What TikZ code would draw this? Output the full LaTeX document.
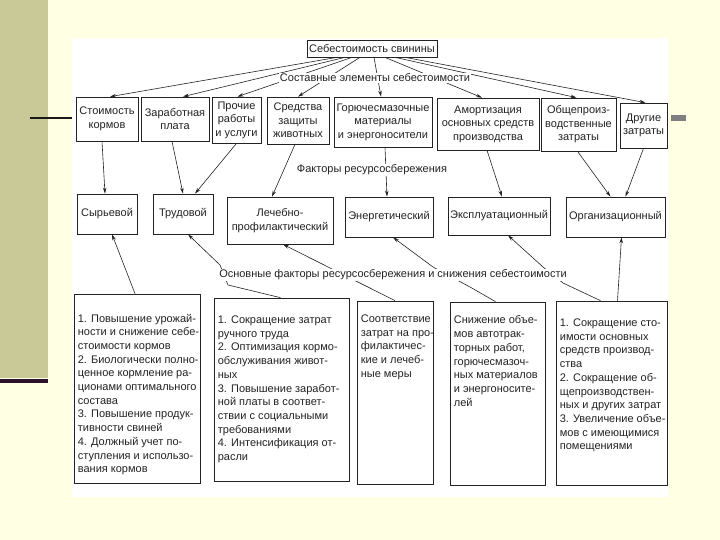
\documentclass[tikz,border=0pt]{standalone}
\usepackage{fontspec}
\setmainfont{Liberation Sans}
\usetikzlibrary{arrows.meta}
\definecolor{cream}{RGB}{255,255,228}
\definecolor{olivebg}{RGB}{201,201,151}
\definecolor{darkbar}{RGB}{43,16,43}
\definecolor{ink}{RGB}{35,35,35}
\begin{document}
\begin{tikzpicture}[x=1pt,y=-1pt,
  box/.style={draw=ink, line width=0.7pt, align=center, inner sep=1pt, font=\fontsize{11}{13.5}\selectfont, text=ink},
  lbl/.style={fill=white, inner sep=1pt, font=\fontsize{11}{13.5}\selectfont, text=ink},
  txt/.style={anchor=north west, align=left, inner sep=0pt, font=\fontsize{11}{13.7}\selectfont, text=ink},
  arr/.style={draw=ink, line width=0.6pt, -{Stealth[length=6pt,width=3.5pt]}},
]
\useasboundingbox (0,0) rectangle (720,540);
\fill[cream] (0,0) rectangle (720,540);
\fill[olivebg] (0,0) rectangle (48,378);
\fill[darkbar] (0,379) rectangle (48,383);
\fill[white] (72,38) rectangle (668,497);
\draw[line width=2.5pt, black!90] (30,118) -- (72,118);
\fill[gray] (671,115) rectangle (686,121);

% title
\node[box, minimum width=130pt, minimum height=17pt] (title) at (372,48.5) {Себестоимость свинины};

% row 1
\node[box, minimum width=62pt, minimum height=44pt] (r1a) at (107,119) {Стоимость\\кормов};
\node[box, minimum width=68pt, minimum height=44pt] (r1b) at (175,119) {Заработная\\плата};
\node[box, minimum width=49pt, minimum height=46pt] (r1c) at (236.5,120) {Прочие\\работы\\и услуги};
\node[box, minimum width=62pt, minimum height=47pt] (r1d) at (298,120.5) {Средства\\защиты\\животных};
\node[box, minimum width=98pt, minimum height=50pt] (r1e) at (383,122) {Горючесмазочные\\материалы\\и энергоносители};
\node[box, minimum width=102pt, minimum height=52pt] (r1f) at (488,124) {Амортизация\\основных средств\\производства};
\node[box, minimum width=75pt, minimum height=53pt] (r1g) at (578.5,124.5) {Общепроиз-\\водственные\\затраты};
\node[box, minimum width=47pt, minimum height=45pt] (r1h) at (643.5,125.5) {Другие\\затраты};

% row 2
\node[box, minimum width=60pt, minimum height=40pt] (r2a) at (107,214) {Сырьевой};
\node[box, minimum width=60pt, minimum height=40pt] (r2b) at (183,214) {Трудовой};
\node[box, minimum width=106pt, minimum height=47pt] (r2c) at (280,220.5) {Лечебно-\\профилактический};
\node[box, minimum width=88pt, minimum height=40pt] (r2d) at (389,217) {Энергетический};
\node[box, minimum width=102pt, minimum height=38pt] (r2e) at (499,216) {Эксплуатационный};
\node[box, minimum width=99pt, minimum height=40pt] (r2f) at (615.5,217) {Организационный};

% row 3
\node[box, minimum width=126pt, minimum height=189pt] (r3a) at (137,388.5) {};
\node[box, minimum width=135pt, minimum height=183pt] (r3b) at (281.5,389.5) {};
\node[box, minimum width=76pt, minimum height=183pt] (r3c) at (395,392.5) {};
\node[box, minimum width=95pt, minimum height=183pt] (r3d) at (497.5,393.5) {};
\node[box, minimum width=111pt, minimum height=184pt] (r3e) at (611.5,393) {};

% connectors: title -> row 1
\draw[arr] ([xshift=-35pt]title.south) -- ([xshift=3pt]r1a.north);
\draw[arr] ([xshift=-27pt]title.south) -- ([xshift=8pt]r1b.north);
\draw[arr] ([xshift=-20pt]title.south) -- ([xshift=1pt]r1c.north);
\draw[arr] ([xshift=-12pt]title.south) -- ([xshift=0pt]r1d.north);
\draw[arr] ([xshift=2pt]title.south) -- ([xshift=-2pt]r1e.north);
\draw[arr] ([xshift=13pt]title.south) -- ([xshift=-6pt]r1f.north);
\draw[arr] ([xshift=23pt]title.south) -- ([xshift=-2pt]r1g.north);
\draw[arr] ([xshift=33pt]title.south) -- ([xshift=2pt]r1h.north);

% row 1 -> row 2
\draw[arr] ([xshift=-5pt]r1a.south) -- ([xshift=-2pt]r2a.north);
\draw[arr] ([xshift=-3pt]r1b.south) -- (r2b.north);
\draw[arr] (r1c.south) -- ([xshift=12pt]r2b.north);
\draw[arr] ([xshift=-3pt]r1d.south) -- ([xshift=-8pt]r2c.north);
\draw[arr] ([xshift=2pt]r1e.south) -- ([xshift=-2pt]r2d.north);
\draw[arr] ([xshift=-1pt]r1f.south) -- ([xshift=3pt]r2e.north);
\draw[arr] ([xshift=-1pt]r1g.south) -- ([xshift=-5pt]r2f.north);
\draw[arr] (r1h.south) -- ([xshift=10pt]r2f.north);

% row 3 -> row 2
\draw[arr] ([xshift=-2pt]r3a.north) -- ([xshift=5pt]r2a.south);
\draw[arr] ([xshift=-1pt]r3b.north) -- (228,285) -- (220,265) -- ([xshift=5pt]r2b.south);
\draw[arr] (r3c.north) -- ([xshift=3pt]r2c.south);
\draw[arr] ([xshift=-2pt]r3d.north) -- (470,287) -- (433,267) -- ([xshift=4pt]r2d.south);
\draw[arr] ([xshift=-11pt]r3e.north) -- (563,283) -- (543,267) -- ([xshift=9pt]r2e.south);
\draw[arr] ([xshift=6pt]r3e.north) -- ([xshift=6pt]r2f.south);

% labels over connectors
\node[lbl] (l1) at (375,78) {Составные элементы себестоимости};
\node[lbl] (l2) at (372,170) {Факторы ресурсосбережения};
\node[lbl] (l3) at (393,275) {Основные факторы ресурсосбережения и снижения себестоимости};

% row 3 texts
\node[txt] (t3a) at ([shift={(4,20)}]r3a.north west) {1. Повышение урожай-\\ности и снижение себе-\\стоимости кормов\\2. Биологически полно-\\ценное кормление ра-\\ционами оптимального\\состава\\3. Повышение продук-\\тивности свиней\\4. Должный учет по-\\ступления и использо-\\вания кормов};
\node[txt] (t3b) at ([shift={(4,18)}]r3b.north west) {1. Сокращение затрат\\ручного труда\\2. Оптимизация кормо-\\обслуживания живот-\\ных\\3. Повышение заработ-\\ной платы в соответ-\\ствии с социальными\\требованиями\\4. Интенсификация от-\\расли};
\node[txt] (t3c) at ([shift={(4,14)}]r3c.north west) {Соответствие\\затрат на про-\\филактичес-\\кие и лечеб-\\ные меры};
\node[txt] (t3d) at ([shift={(4,14)}]r3d.north west) {Снижение объе-\\мов автотрак-\\торных работ,\\горючесмазоч-\\ных материалов\\и энергоносите-\\лей};
\node[txt] (t3e) at ([shift={(4,18)}]r3e.north west) {1. Сокращение сто-\\имости основных\\средств производ-\\ства\\2. Сокращение об-\\щепроизводствен-\\ных и других затрат\\3. Увеличение объе-\\мов с имеющимися\\помещениями};
\end{tikzpicture}
\end{document}
